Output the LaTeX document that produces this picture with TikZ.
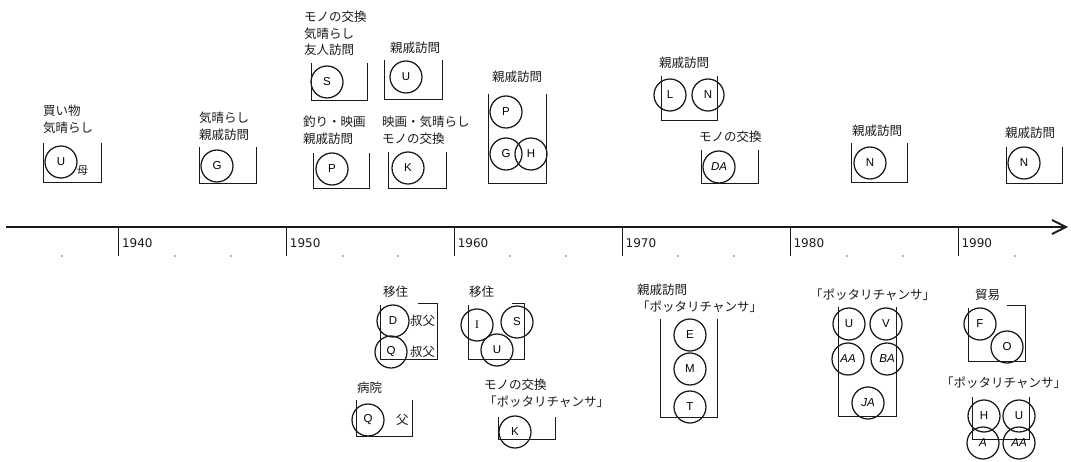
\documentclass[tikz,border=0pt]{standalone}
\usepackage{fontspec}
\setmainfont{Liberation Sans}
\newfontfamily\jp{Noto Sans CJK JP}
\newfontfamily\yr{DejaVu Sans}
\newfontfamily\serifI{Liberation Serif}
\usetikzlibrary{arrows.meta}
\definecolor{ink}{HTML}{1A1A1A}
\definecolor{dotgray}{HTML}{BBBBBB}
\begin{document}
\begin{tikzpicture}[x=1pt,y=-1pt,
  pers/.style={circle,draw=ink,line width=1.25pt,minimum size=32pt,inner sep=0pt,font=\fontsize{11.5}{13}\selectfont},
  lbl/.style={anchor=north west,inner sep=0pt,align=left,text=ink,font=\jp\fontsize{12.5}{16.5}\selectfont},
  small/.style={anchor=west,inner sep=0pt,text=ink,font=\jp\fontsize{12.5}{14}\selectfont},
  boxline/.style={draw=ink,line width=0.9pt},
  yearlbl/.style={anchor=west,inner sep=0pt,text=ink,font=\yr\fontsize{12}{14}\selectfont},
]
\useasboundingbox (0,0) rectangle (1071,462);

% ---------- axis ----------
\coordinate (axs) at (6,227);
\coordinate (axe) at (1068,227);
\draw[ink,line width=1.9pt,-{Straight Barb[length=14pt,width=14pt]}] (axs) -- (axe);
\foreach \i/\yy in {0/1940,1/1950,2/1960,3/1970,4/1980,5/1990}{
  \pgfmathsetmacro{\xx}{118.8+167.9*\i}
  \draw[ink,line width=1pt] (\xx,228) -- (\xx,256);
  \node[yearlbl] (y\yy) at (\xx+3,243) {\yy};
}
\foreach \xx in {62,175,231,343,398,510,566,678,734,847,903,1015}{
  \fill[dotgray] (\xx-0.6,255.4) rectangle (\xx+0.6,256.6);
}

% ---------- upper groups ----------
% 1930s
\node[lbl] (t1) at (43,105) {買い物\\気晴らし};
\draw[boxline] (43,143) -- (43,182) -- (101,182) -- (101,143);
\node[pers] (c1u) at (61,162) {U};
\node[small,font=\jp\fontsize{11}{12}\selectfont] (m1) at (77,171) {母};

% G
\node[lbl] (t2) at (199,112) {気晴らし\\親戚訪問};
\draw[boxline] (199,147) -- (199,183) -- (256,183) -- (256,147);
\node[pers] (c2g) at (217,166) {G};

% S
\node[lbl] (t3) at (304,11) {モノの交換\\気晴らし\\友人訪問};
\draw[boxline] (311,63) -- (311,100) -- (367,100) -- (367,63);
\node[pers] (c3s) at (327,82) {S};

% U
\node[lbl] (t4) at (390,42) {親戚訪問};
\draw[boxline] (384,60) -- (384,99) -- (442,99) -- (442,60);
\node[pers] (c4u) at (406,77) {U};

% P
\node[lbl] (t5) at (303,116) {釣り・映画\\親戚訪問};
\draw[boxline] (313,153) -- (313,188) -- (369,188) -- (369,153);
\node[pers] (c5p) at (332,169) {P};

% K
\node[lbl] (t6) at (382,116) {映画・気晴らし\\モノの交換};
\draw[boxline] (388,152) -- (388,188) -- (446,188) -- (446,152);
\node[pers] (c6k) at (408,168) {K};

% P G H
\node[lbl] (t7) at (492,71) {親戚訪問};
\draw[boxline] (488,94) -- (488,183) -- (546,183) -- (546,94);
\node[pers] (c7p) at (506,112) {P};
\node[pers] (c7g) at (506,154) {G};
\node[pers] (c7h) at (531,154) {H};

% L N
\node[lbl] (t8) at (659,57) {親戚訪問};
\draw[boxline] (661,76) -- (661,120) -- (717,120) -- (717,76);
\node[pers] (c8l) at (670,95) {L};
\node[pers] (c8n) at (708,95) {N};

% DA
\node[lbl] (t9) at (699,131) {モノの交換};
\draw[boxline] (701,150) -- (701,183) -- (758,183) -- (758,150);
\node[pers] (c9da) at (719,167) {\textit{DA}};

% N
\node[lbl] (t10) at (852,125) {親戚訪問};
\draw[boxline] (851,143) -- (851,182) -- (907,182) -- (907,143);
\node[pers] (c10n) at (870,163) {N};

% N right
\node[lbl] (t11) at (1005,127) {親戚訪問};
\draw[boxline] (1006,147) -- (1006,183) -- (1062,183) -- (1062,147);
\node[pers] (c11n) at (1024,163) {N};

% ---------- lower groups ----------
% D Q
\node[lbl] (b1) at (383,286) {移住};
\draw[boxline] (380,305) -- (380,359) -- (437,359) -- (437,303) -- (418,303);
\node[pers] (b1d) at (393,321) {D};
\node[pers] (b1q) at (391,352) {Q};
\node[small] (b1d2) at (410,321) {叔父};
\node[small] (b1q2) at (410,352) {叔父};

% I S U
\node[lbl] (b2) at (469,286) {移住};
\draw[boxline] (468,305) -- (468,359) -- (524,359) -- (524,303) -- (512,303);
\node[pers] (b2i) at (477,325) {\serifI I};
\node[pers] (b2s) at (517,322) {S};
\node[pers] (b2u) at (497,350) {U};

% Q hospital
\node[lbl] (b3) at (357,382) {病院};
\draw[boxline] (356,400) -- (356,436) -- (412,436) -- (412,400);
\node[pers] (b3q) at (368,420) {Q};
\node[small] (b3f) at (396,420) {父};

% K
\node[lbl] (b4) at (484,379) {モノの交換\\「ポッタリチャンサ」};
\draw[boxline] (498,417) -- (498,439) -- (555,439) -- (555,417);
\node[pers] (b4k) at (515,432) {K};

% E M T
\node[lbl] (b5) at (637,284) {親戚訪問\\「ポッタリチャンサ」};
\draw[boxline] (660,319) -- (660,417) -- (717,417) -- (717,319);
\node[pers] (b5e) at (690,335) {E};
\node[pers] (b5m) at (690,369) {M};
\node[pers] (b5t) at (690,407) {T};

% U V AA BA JA
\node[lbl] (b6) at (810,289) {「ポッタリチャンサ」};
\draw[boxline] (838,307) -- (838,416) -- (896,416) -- (896,307);
\node[pers] (b6u) at (849,324) {U};
\node[pers] (b6v) at (886,324) {V};
\node[pers] (b6aa) at (848,359) {\textit{AA}};
\node[pers] (b6ba) at (887,359) {\textit{BA}};
\node[pers] (b6ja) at (868,403) {\textit{JA}};

% F O
\node[lbl] (b7) at (975,289) {貿易};
\draw[boxline] (968,308) -- (968,361) -- (1025,361) -- (1025,305) -- (1007,305);
\node[pers] (b7f) at (980,324) {F};
\node[pers] (b7o) at (1007,347) {O};

% H U A AA
\node[lbl] (b8) at (941,377) {「ポッタリチャンサ」};
\draw[boxline] (972,397) -- (972,439) -- (1029,439) -- (1029,397);
\node[pers] (b8h) at (984,416) {H};
\node[pers] (b8u) at (1019,416) {U};
\node[pers] (b8a) at (983,443) {\textit{A}};
\node[pers] (b8aa) at (1019,443) {\textit{AA}};
\end{tikzpicture}
\end{document}
